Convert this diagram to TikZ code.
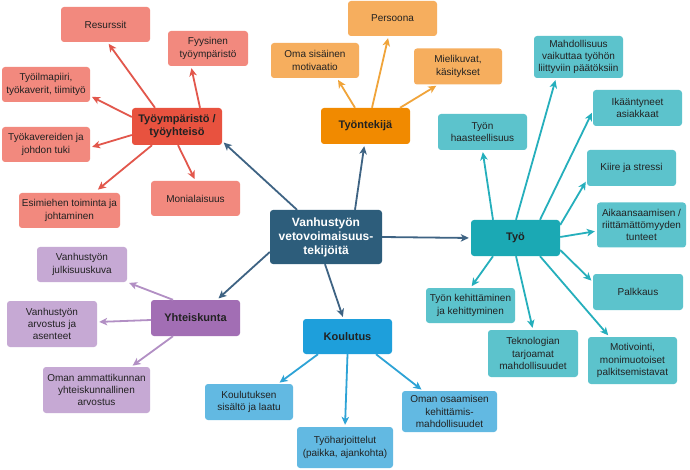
\documentclass[tikz,border=0pt]{standalone}
\usepackage{fontspec}
\setmainfont{Liberation Sans}
\usetikzlibrary{arrows.meta}
\definecolor{mainc}{HTML}{2D5D7B}
\definecolor{mainarr}{HTML}{3E6383}
\definecolor{redc}{HTML}{E8523F}
\definecolor{redl}{HTML}{F2897E}
\definecolor{reda}{HTML}{E2574C}
\definecolor{orc}{HTML}{F18A00}
\definecolor{orl}{HTML}{F6AE5E}
\definecolor{ora}{HTML}{F0A43A}
\definecolor{tec}{HTML}{1BA9B4}
\definecolor{tel}{HTML}{5CC3CC}
\definecolor{tea}{HTML}{25AFBC}
\definecolor{puc}{HTML}{A26EB4}
\definecolor{pul}{HTML}{C6A9D4}
\definecolor{pua}{HTML}{B28FC4}
\definecolor{blc}{HTML}{1E9FDB}
\definecolor{bll}{HTML}{62B9E2}
\definecolor{bla}{HTML}{2EA3D6}
\definecolor{txt}{HTML}{222222}
\tikzset{
  box/.style n args={3}{rounded corners=3pt, fill=#1, align=center, inner sep=1pt,
    minimum width=#2, minimum height=#3, text=txt, font=\fontsize{10}{12.3}\selectfont},
  cat/.style n args={3}{box={#1}{#2}{#3}, font=\fontsize{11}{13}\selectfont\bfseries},
  arr/.style={draw=#1, line width=1.8pt, -{Stealth[length=8pt,width=7.5pt,inset=2.2pt]}, shorten >=2pt},
}
\begin{document}
\begin{tikzpicture}[x=1pt,y=-1pt]
\fill[white] (0,0) rectangle (690,470);
\useasboundingbox (0,0) rectangle (690,470);
% main
\node[box={mainc}{112pt}{54pt}, text=white, font=\fontsize{12}{14}\selectfont\bfseries] (main) at (326,237) {Vanhustyön\\vetovoimaisuus-\\tekijöitä};
% red
\node[cat={redc}{90pt}{37pt}] (tyoymp) at (177,126.5) {Työympäristö /\\työyhteisö};
\node[box={redl}{89pt}{35pt}] (resurssit) at (105.5,24.5) {Resurssit};
\node[box={redl}{80pt}{35pt}] (fyysinen) at (208,48.5) {Fyysinen\\työympäristö};
\node[box={redl}{88pt}{35pt}] (ilmapiiri) at (46,84.5) {Työilmapiiri,\\työkaverit, tiimityö};
\node[box={redl}{88pt}{35pt}] (tuki) at (46,144.5) {Työkavereiden ja\\johdon tuki};
\node[box={redl}{101pt}{35pt}] (esimies) at (69.5,210.5) {Esimiehen toiminta ja\\johtaminen};
\node[box={redl}{89pt}{35pt}] (monial) at (195.5,198.5) {Monialaisuus};
% orange
\node[cat={orc}{89pt}{36pt}] (tyontekija) at (365.5,126) {Työntekijä};
\node[box={orl}{89pt}{35pt}] (persoona) at (392.5,18.5) {Persoona};
\node[box={orl}{88pt}{35pt}] (oma) at (315,60.5) {Oma sisäinen\\motivaatio};
\node[box={orl}{88pt}{36pt}] (mieli) at (458,66.5) {Mielikuvat,\\käsitykset};
% teal
\node[cat={tec}{89pt}{36pt}] (tyo) at (515.5,238) {Työ};
\node[box={tel}{89pt}{42pt}] (mahd) at (578.5,57) {Mahdollisuus\\vaikuttaa työhön\\liittyviin päätöksiin};
\node[box={tel}{89pt}{36pt}] (ikaan) at (637.5,108) {Ikääntyneet\\asiakkaat};
\node[box={tel}{89pt}{36pt}] (haast) at (482.5,132) {Työn\\haasteellisuus};
\node[box={tel}{89pt}{36pt}] (kiire) at (631.5,168) {Kiire ja stressi};
\node[box={tel}{89pt}{45pt}] (aikaan) at (641.5,225) {Aikaansaamisen /\\riittämättömyyden\\tunteet};
\node[box={tel}{89pt}{35pt}] (kehit) at (470.5,305.5) {Työn kehittäminen\\ja kehittyminen};
\node[box={tel}{90pt}{36pt}] (palkkaus) at (638,292) {Palkkaus};
\node[box={tel}{90pt}{47pt}] (tekno) at (533,353.5) {Teknologian\\tarjoamat\\mahdollisuudet};
\node[box={tel}{89pt}{47pt}] (motiv) at (632.5,360.5) {Motivointi,\\monimuotoiset\\palkitsemistavat};
% purple
\node[cat={puc}{89pt}{36pt}] (yht) at (195.5,318) {Yhteiskunta};
\node[box={pul}{90pt}{35pt}] (julk) at (82,264.5) {Vanhustyön\\julkisuuskuva};
\node[box={pul}{90pt}{46pt}] (arvos) at (52,324) {Vanhustyön\\arvostus ja\\asenteet};
\node[box={pul}{107pt}{46pt}] (ammatti) at (96.5,390) {Oman ammattikunnan\\yhteiskunnallinen\\arvostus};
% blue
\node[cat={blc}{89pt}{35pt}] (koul) at (347.5,336.5) {Koulutus};
\node[box={bll}{88pt}{36pt}] (sisalto) at (249,402) {Koulutuksen\\sisältö ja laatu};
\node[box={bll}{96pt}{41pt}] (harj) at (345,447.5) {Työharjoittelut\\(paikka, ajankohta)};
\node[box={bll}{95pt}{41pt}] (osaam) at (449.5,411.5) {Oman osaamisen\\kehittämis-\\mahdollisuudet};
% main arrows
\draw[arr=mainarr] ([xshift=-29pt]main.north) -- ([yshift=4pt]tyoymp.south east);
\draw[arr=mainarr] ([xshift=29pt]main.north) -- ([xshift=-1pt]tyontekija.south);
\draw[arr=mainarr] (main.east) -- (tyo.west);
\draw[arr=mainarr] ([yshift=-15pt]main.west) -- ([xshift=21.5pt]yht.north);
\draw[arr=mainarr] ([xshift=-1pt]main.south) -- ([xshift=-4pt]koul.north);
% red arrows
\draw[arr=reda] ([xshift=-22pt]tyoymp.north) -- ([xshift=2pt]resurssit.south);
\draw[arr=reda] ([xshift=23pt]tyoymp.north) -- ([xshift=-17pt]fyysinen.south);
\draw[arr=reda] ([yshift=9.5pt]tyoymp.west) -- ([yshift=-11.5pt]ilmapiiri.east);
\draw[arr=reda] ([yshift=-8.5pt]tyoymp.west) -- ([yshift=-3pt]tuki.east);
\draw[arr=reda, shorten >=5pt] ([xshift=-25pt]tyoymp.south) -- ([xshift=24.5pt]esimies.north);
\draw[arr=reda] ([xshift=1pt]tyoymp.south) -- (monial.north);
% orange arrows
\draw[arr=ora] ([xshift=-10.5pt]tyontekija.north) -- ([xshift=22pt]oma.south);
\draw[arr=ora] ([xshift=6.5pt]tyontekija.north) -- ([xshift=-4pt]persoona.south);
\draw[arr=ora] ([xshift=34.5pt]tyontekija.north) -- ([xshift=-20pt]mieli.south);
% teal arrows
\draw[arr=tea] ([xshift=-22.5pt]tyo.north) -- (haast.south);
\draw[arr=tea] ([xshift=0.5pt]tyo.north) -- ([xshift=-22.5pt]mahd.south);
\draw[arr=tea] ([xshift=24.5pt]tyo.north) -- ([yshift=-3pt]ikaan.west);
\draw[arr=tea] ([yshift=13pt]tyo.east) -- ([yshift=-12pt]kiire.west);
\draw[arr=tea] ([yshift=1pt]tyo.east) -- ([yshift=-6pt]aikaan.west);
\draw[arr=tea] ([yshift=-12pt]tyo.east) -- ([yshift=10pt]palkkaus.west);
\draw[arr=tea] ([xshift=-22.5pt]tyo.south) -- (kehit.north);
\draw[arr=tea] ([xshift=0.5pt]tyo.south) -- (tekno.north);
\draw[arr=tea] ([xshift=24.5pt]tyo.south) -- ([xshift=-23pt]motiv.north);
% purple arrows
\draw[arr=pua] ([xshift=-22.5pt]yht.north) -- (julk.south east);
\draw[arr=pua] ([yshift=-2pt]yht.west) -- ([yshift=2pt]arvos.east);
\draw[arr=pua] ([xshift=-22.5pt]yht.south) -- ([xshift=34.5pt]ammatti.north);
% blue arrows
\draw[arr=bla] ([xshift=-29.5pt]koul.south) -- ([xshift=29pt]sisalto.north);
\draw[arr=bla] (koul.south) -- (harj.north);
\draw[arr=bla] ([xshift=28.5pt]koul.south) -- ([xshift=-26.5pt]osaam.north);
\end{tikzpicture}
\end{document}
